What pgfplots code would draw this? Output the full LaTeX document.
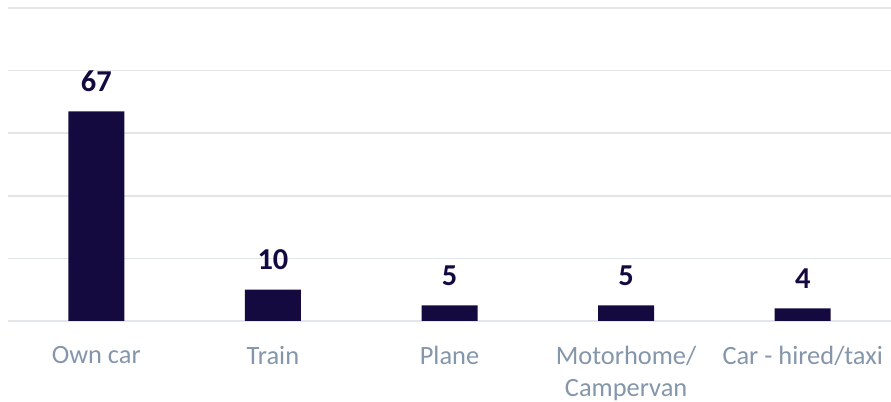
\documentclass[border=0pt]{standalone}
\usepackage{fontspec}
\setmainfont{Carlito}
\usepackage{pgfplots}
\pgfplotsset{compat=1.18}
\definecolor{barc}{HTML}{140A40}
\definecolor{lab}{HTML}{8496A9}
\definecolor{gridc}{HTML}{E2E5EA}
\begin{document}
\begin{tikzpicture}[x=1bp,y=1bp]
\begin{axis}[name=ax, at={(8bp,81bp)}, anchor=south west,
 scale only axis, width=883bp, height=313bp,
 xmin=-0.5, xmax=4.5, ymin=0, ymax=100,
 /pgf/number format/assume math mode=true,
 ytick={0,20,...,100}, yticklabels={}, ymajorgrids,
 grid style={gridc, line width=1.5bp},
 axis line style={draw=none}, major tick length=0,
 xtick={0,...,4},
 xticklabels={Own car, Train, Plane, Motorhome/\\Campervan, Car - hired/taxi},
 xticklabel style={align=center, inner sep=0, anchor=north, yshift=-25bp,
   font=\fontsize{26.5}{32}\selectfont, text=lab},
 ybar, bar width=56bp,
 nodes near coords,
 nodes near coords style={anchor=base, yshift=20bp, inner sep=0,
   font=\bfseries\fontsize{30.5}{36}\selectfont, text=barc},
]
\addplot[ybar, fill=barc, draw=none] coordinates {(0,67) (1,10) (2,5) (3,5) (4,4)};
\end{axis}
\pgfresetboundingbox
\path[use as bounding box] (0,0) rectangle (891bp,402bp);
\end{tikzpicture}
\end{document}
